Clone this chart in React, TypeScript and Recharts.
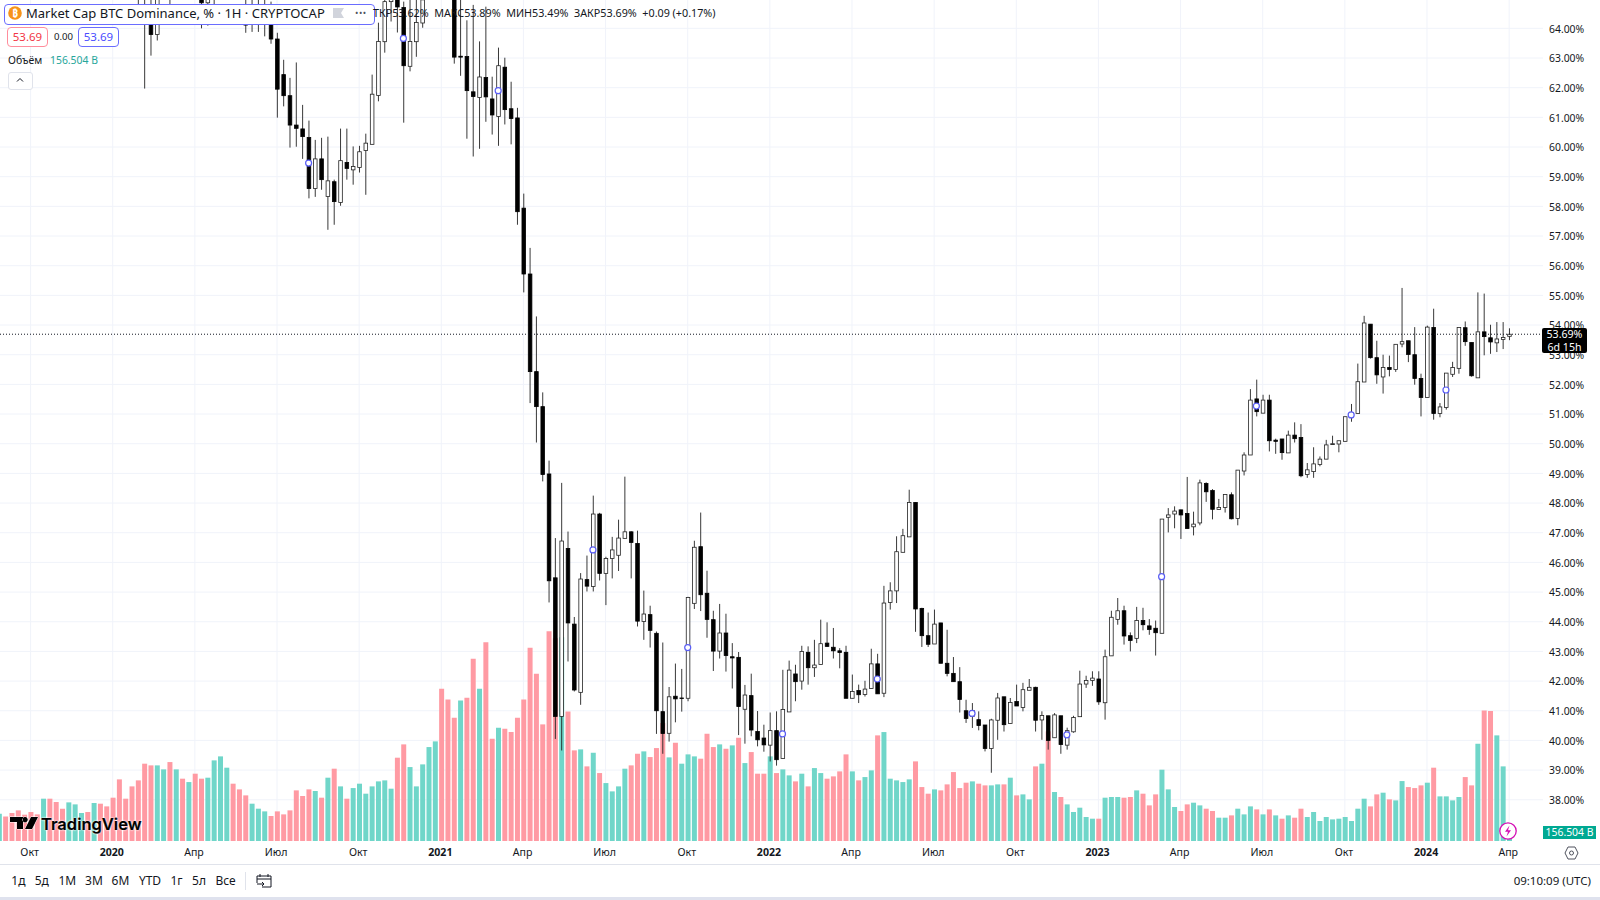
import * as React from "react";
import {
  Bar,
  CartesianGrid,
  Cell,
  ComposedChart,
  Line,
  ReferenceLine,
  XAxis,
  YAxis,
} from "recharts";

// ─── Data (weekly BTC dominance, %) ──────────────────────────────────────────

const opens = [
  69.8, 69.4, 69, 68.6, 69.1, 68.7, 68.3, 68.6, 68.2, 67.8, 68.1, 67.6, 67.9, 68.3, 67.8, 67.4, 67.7, 67.2, 67.5, 67.9, 67.4, 66.9,
  65.9, 66, 64.15, 63.79, 65.8, 65.5, 65.6, 65.9, 65.5, 65.9,
  65.3, 64.86, 65.2, 65.6, 65.8, 65.4, 65.7, 64.2, 64.2, 64.5,
  64.3, 64.19, 63.64, 62.44, 61.73, 60.74, 60.61, 60.32, 58.6, 59.6,
  58.33, 58.83, 58.13, 59.48, 59.23, 59.31, 59.88, 60.09, 61.74, 63.55,
  64.9, 65.13, 64.7, 62.72, 63.55, 64.18, 65.1, 65.9, 66.2, 65.9,
  65.4, 63.06, 63.05, 61.86, 61.67, 62.34, 61.62, 61.03, 62.69, 61.29,
  60.98, 57.94, 55.72, 52.43, 51.25, 48.98, 45.48, 40.81, 46.47, 43.92,
  41.62, 45.42, 45.19, 47.63, 45.63, 46.13, 46.24, 46.81, 47.03, 46.64,
  44.01, 44.24, 43.61, 40.97, 40.24, 41.49, 41.43, 41.42, 44.62, 46.53,
  44.96, 44.07, 43.01, 43.62, 42.82, 42.8, 41.05, 41.51, 40.3, 40.08,
  39.84, 40.33, 39.39, 40.96, 42.24, 42, 42.97, 42.45, 42.56, 43.28,
  43.14, 43.02, 42.97, 41.42, 41.68, 41.55, 41.75, 42.58, 41.59, 44.65,
  45.04, 46.34, 46.86, 48.02, 44.45, 43.53, 43.25, 43.96, 42.6, 42.26,
  41.98, 41, 40.81, 40.7, 40.52, 39.73, 40.68, 41.47, 40.57, 41.31,
  41.11, 41.69, 41.79, 40.69, 40.83, 40.09, 40.83, 39.84, 40.29, 40.8,
  41.9, 42.02, 42.07, 41.27, 42.85, 44.08, 44.37, 43.53, 43.44, 44.04,
  43.86, 43.78, 43.61, 47.52, 47.63, 47.77, 47.65, 47.2, 47.33, 48.66,
  48.42, 47.78, 47.85, 48.28, 47.48, 49.08, 49.62, 51.51, 51.03, 51.47,
  50.12, 50.16, 49.69, 50.29, 50.21, 48.96, 49.06, 49.3, 49.48, 49.97,
  49.99, 50.08, 50.91, 51.02, 52.08, 54.03, 52.9, 52.25, 52.57, 52.5,
  53.36, 53.47, 53, 52.2, 51.56, 53.92, 51.02, 51.22, 52.34, 52.54,
  53.91, 53.41, 52.22, 53.77, 53.57, 53.4, 53.51, 53.62,
];

const highs = [
  70.2, 69.8, 69.4, 69.5, 69.5, 69.1, 69, 69, 68.6, 68.5, 68.5, 68.3, 68.7, 68.7, 68.2, 68.1, 68.1, 67.9, 68.3, 68.3, 67.8, 67.3,
  66.2, 66.4, 65.2, 65.4, 66.2, 66, 66.3, 66.2, 66.2, 66.1,
  65.7, 65.5, 65.6, 66.2, 66.1, 66, 66.2, 65, 65.1, 65.2,
  65, 64.9, 63.85, 62.94, 62.33, 62.85, 61.42, 60.89, 60.24, 60.31,
  60.35, 58.9, 60.62, 60.62, 60.02, 60.04, 60.45, 62.44, 64.19, 65.3,
  65.6, 65.5, 64.9, 64.96, 64.96, 65.3, 66.3, 66.6, 66.8, 66.7,
  65.9, 65, 64.27, 64.79, 63.56, 64.73, 62.37, 63.35, 63.01, 62.2,
  61.32, 58.43, 56.6, 54.29, 51.73, 49.43, 46.82, 48.68, 47.04, 44.16,
  45.64, 46.23, 48.25, 47.67, 46.19, 46.86, 47.44, 48.89, 47.05, 47.07,
  45.05, 44.54, 43.67, 43.3, 41.8, 42.59, 42.41, 44.84, 46.73, 47.68,
  45.72, 44.37, 44.6, 44.27, 43.28, 42.98, 41.87, 42.25, 40.99, 40.53,
  40.94, 40.98, 42.38, 42.69, 42.55, 43.19, 43.17, 43.39, 44.07, 43.98,
  43.79, 43.11, 43.19, 42.22, 41.88, 42.01, 43.09, 42.92, 45.21, 45.33,
  46.88, 47.13, 48.45, 48.03, 44.47, 44.31, 44.41, 43.96, 43.73, 42.81,
  42.47, 41.37, 41.26, 40.98, 40.52, 40.73, 41.6, 41.47, 41.43, 41.88,
  41.94, 42.07, 41.81, 40.98, 40.83, 40.92, 40.83, 40.43, 40.83, 42.35,
  42.18, 42.33, 42.33, 43.06, 44.37, 44.8, 44.54, 43.64, 44.5, 44.47,
  44.09, 44.04, 47.46, 47.83, 47.89, 47.78, 48.88, 47.71, 48.79, 48.7,
  48.47, 48.14, 48.29, 48.36, 49.11, 49.71, 51.84, 52.16, 51.65, 51.65,
  50.17, 50.16, 50.44, 50.72, 50.66, 49.35, 49.88, 49.57, 50.13, 50.27,
  50.1, 50.91, 51.34, 52.7, 54.31, 54.03, 53.47, 53, 52.97, 53.35,
  55.25, 53.47, 53.93, 52.36, 53.98, 54.55, 51.37, 52.38, 52.76, 53.92,
  54.12, 53.41, 55.1, 55.06, 54.01, 54.1, 54.1, 53.89,
];

const lows = [
  68.9, 68.5, 68.1, 68.1, 68.2, 67.8, 67.8, 67.7, 67.3, 67.3, 67.1, 67.1, 67.4, 67.3, 66.9, 66.9, 66.7, 66.7, 67, 66.9, 66.4, 65.9,
  64.12, 61.97, 63.08, 63.59, 65.1, 64.15, 65.2, 65.3, 65.1, 65.2,
  64, 64.09, 64.3, 65.1, 65.2, 65.1, 65.2, 63.85, 63.88, 63.88,
  63.73, 63.48, 60.99, 61.37, 59.98, 60.01, 59.6, 58.27, 58.32, 58.56,
  57.21, 57.38, 58.02, 58.9, 58.73, 59.14, 58.39, 60.09, 61.54, 63.18,
  64.23, 63.86, 60.82, 62.55, 63.04, 64.02, 65.05, 65.6, 65.5, 65.4,
  62.81, 62.4, 60.28, 59.68, 59.94, 60.85, 60.42, 60.04, 60.76, 60.09,
  57.38, 55.1, 51.37, 50.04, 48.73, 44.65, 40.05, 39.66, 42.66, 41.65,
  41.2, 45.02, 45.02, 45.39, 44.56, 45.46, 45.71, 46.81, 45.46, 43.84,
  43.39, 43.13, 40.22, 39.55, 39.96, 40.61, 40.97, 41.32, 44.43, 44.36,
  43.46, 42.34, 42.76, 42.32, 41.75, 40.18, 39.89, 40.14, 39.8, 39.62,
  39.29, 39.15, 39.39, 40.96, 41.32, 41.71, 41.88, 42.14, 42.56, 43.15,
  42.76, 42.43, 41.42, 41.42, 41.26, 41.48, 41.75, 41.57, 41.46, 44.41,
  44.63, 46.34, 46.86, 43.66, 43.15, 43.15, 43.25, 42.6, 42.16, 41.98,
  40.94, 40.59, 40.42, 40.34, 39.63, 38.91, 40.02, 40.3, 40.57, 41.16,
  40.98, 41.69, 40.3, 40.02, 39.69, 40.09, 39.55, 39.69, 40.26, 40.8,
  41.77, 41.84, 41.2, 40.7, 42.85, 43.9, 43.23, 43, 43.28, 43.71,
  43.56, 42.86, 43.61, 47.01, 47.15, 46.79, 47.14, 46.91, 47.25, 48.04,
  47.45, 47.78, 47.68, 47.45, 47.25, 48.93, 49.62, 50.92, 51.03, 49.74,
  49.66, 49.46, 49.69, 50.04, 48.87, 48.85, 48.85, 49.24, 49.48, 49.97,
  49.71, 50.08, 50.74, 51.02, 52.08, 52.87, 52.02, 51.69, 52.27, 52.42,
  53.25, 52.75, 51.99, 50.92, 51.56, 50.81, 50.89, 51.15, 52.25, 52.36,
  53.3, 52.26, 52.22, 52.98, 53.03, 53.09, 53.19, 53.49,
];

const closes = [
  69.4, 69, 68.6, 69.1, 68.7, 68.3, 68.6, 68.2, 67.8, 68.1, 67.6, 67.9, 68.3, 67.8, 67.4, 67.7, 67.2, 67.5, 67.9, 67.4, 66.9, 66.4,
  65.4, 65.3, 63.79, 65.03, 65.5, 65.2, 65.9, 65.6, 65.9, 65.4,
  64.86, 65.2, 65, 65.8, 65.5, 65.7, 65.4, 64.11, 64.5, 64.3,
  64.22, 63.64, 61.95, 61.73, 60.74, 60.63, 60.35, 58.6, 59.6, 58.9,
  58.86, 58.16, 59.54, 59.28, 59.34, 59.84, 60.13, 61.78, 63.56, 64.9,
  65.3, 64.72, 62.74, 63.56, 64.2, 64.96, 65.9, 66.2, 65.9, 66.3,
  63.03, 63.03, 61.9, 61.7, 62.36, 61.69, 61.08, 62.74, 61.26, 60.96,
  57.82, 55.72, 52.43, 51.25, 48.96, 45.38, 40.81, 46.72, 43.96, 41.7,
  45.44, 45.2, 47.63, 45.63, 46.13, 46.42, 46.82, 47.03, 46.67, 44.02,
  44.26, 43.71, 41, 40.23, 41.47, 41.4, 41.41, 44.82, 46.51, 44.91,
  44.08, 43.01, 43.62, 42.86, 42.78, 41.14, 41.53, 40.35, 40.02, 39.85,
  40.33, 39.35, 41.04, 42.37, 41.98, 43, 42.45, 42.54, 43.26, 43.17,
  43.02, 42.96, 41.42, 41.65, 41.54, 41.73, 42.58, 41.57, 44.63, 45.04,
  46.36, 46.9, 48.02, 44.43, 43.53, 43.24, 43.92, 42.6, 42.26, 41.98,
  41.38, 40.74, 41.01, 40.5, 39.73, 40.69, 41.43, 40.53, 41.28, 41.16,
  41.71, 41.79, 40.68, 40.84, 40, 40.86, 39.86, 40.33, 40.77, 41.9,
  42.02, 42.1, 41.3, 42.82, 44.15, 44.37, 43.52, 43.37, 44.04, 43.9,
  43.74, 43.63, 47.46, 47.6, 47.73, 47.6, 47.14, 47.29, 48.68, 48.38,
  47.79, 47.85, 48.29, 47.47, 49.11, 49.62, 51.47, 51.08, 51.47, 50.1,
  50.08, 49.7, 50.29, 50.17, 48.92, 49.12, 49.32, 49.48, 49.96, 50,
  50.1, 50.91, 51.04, 52.09, 54.07, 52.9, 52.32, 52.57, 52.5, 53.35,
  53.44, 53.01, 52.2, 51.56, 53.93, 51.02, 51.24, 52.38, 52.57, 53.92,
  53.44, 52.29, 53.77, 53.61, 53.43, 53.53, 53.58, 53.69,
];

// Volume in billions, T = teal bar, P = pink bar
const volumes = [
  437, 394, 448, 490, 421, 464, 426, 677, 677, 624,
  517, 618, 586, 448, 464, 608, 597, 554, 693, 986,
  677, 874, 970, 1237, 1210, 1210, 1146, 1263, 1146, 997,
  943, 1077, 997, 1013, 1290, 1354, 1173, 917, 826, 730,
  597, 517, 474, 400, 474, 426, 490, 810, 720, 826,
  800, 693, 1013, 1157, 874, 677, 847, 917, 757, 874,
  954, 970, 837, 1333, 1546, 1183, 874, 1226, 1503, 1594,
  2436, 2265, 1972, 2249, 2292, 2916, 2436, 3182, 1636, 1812,
  1796, 1743, 1972, 2265, 3091, 2676, 1866, 3358, 3246, 3262,
  2073, 1450, 1466, 1194, 1412, 1087, 927, 794, 874, 1157,
  1210, 1396, 1434, 1343, 1487, 1887, 1338, 1572, 1237, 1386,
  1354, 1317, 1716, 1503, 1546, 1476, 1530, 1652, 1247, 1423,
  1077, 1077, 1354, 1087, 1146, 1050, 954, 1077, 874, 1167,
  1087, 997, 1034, 1114, 1386, 1114, 970, 1023, 1130, 1690,
  1743, 997, 970, 943, 986, 1274, 863, 757, 826, 810,
  906, 1103, 847, 933, 954, 917, 890, 890, 906, 906,
  1013, 730, 746, 666, 1194, 1237, 1754, 784, 704, 586,
  464, 533, 384, 357, 357, 693, 704, 704, 693, 704,
  810, 757, 570, 746, 1141, 826, 544, 480, 586, 613,
  570, 517, 480, 373, 373, 410, 517, 426, 554, 506,
  426, 506, 410, 357, 410, 373, 517, 384, 464, 320,
  384, 346, 357, 384, 320, 517, 677, 554, 746, 773,
  666, 650, 959, 863, 847, 890, 933, 1173, 714, 714,
  650, 704, 1023, 890, 1556, 2089, 2079, 1690, 1194, 157,
];

const volumeSides = (
  "TPPPPPPTPP" + "PTTTPTPPPP" + "PPPPPTTPTP" + "TPPTTTTPPP" + "TTTPPPPPPP" + "TPTPTPTTTT" +
  "TTTPPTTTTT" + "PPPTPPTPPT" + "PPPPPPPPPT" + "PPTPTPTTTT" + "PPTPPPTPTT" + "TPPPTPTPTP" +
  "PPTPTTPTPT" + "TPPPPTPTTP" + "TTTTTPPPTP" + "PPPPTPPTTP" + "TPTTPTPTPT" + "TTTTPTTTPP" +
  "TPPPTTTPPT" + "TPPTTPTTTP" + "TPTPTPPTTT" + "TTTTTTTPPT" + "PTTPPPTPTT" + "TTPPTPPTTT"
).split("");

// Blue session markers sitting on the candles
const markIndexes = [49, 64, 79, 94, 109, 124, 139, 154, 169, 184, 199, 214, 229];
const markPrices = [59.46, 63.66, 61.9, 46.42, 43.13, 40.22, 42.07, 40.91, 40.19, 45.52, 51.27, 50.97, 51.81];

const priceTicks = [38, 39, 40, 41, 42, 43, 44, 45, 46, 47, 48, 49, 50, 51, 52, 53, 54, 55, 56, 57, 58, 59, 60, 61, 62, 63, 64];
const timeTicks = [5, 18, 31, 44, 57, 70, 83, 96, 109, 122, 135, 148, 161, 174, 187, 200, 213, 226, 239];
const timeLabels = ["Окт", "2020", "Апр", "Июл", "Окт", "2021", "Апр", "Июл", "Окт", "2022", "Апр", "Июл", "Окт", "2023", "Апр", "Июл", "Окт", "2024", "Апр"];
const rangeButtons = ["1д", "5д", "1М", "3М", "6М", "YTD", "1г", "5л", "Все"];
const rangeButtonCenters = [18.4, 41.8, 67.3, 93.9, 120.4, 150, 176.5, 199, 225.5];

const LAST_PRICE = 53.69;
const FONT = '"Noto Sans", sans-serif';
const TEXT = "#131722";
const BLUE = "#6a6dff";

const rows = opens.map((open, i) => ({
  index: i,
  open,
  high: highs[i],
  low: lows[i],
  close: closes[i],
  volume: volumes[i],
  side: volumeSides[i],
  mark: markIndexes.includes(i) ? markPrices[markIndexes.indexOf(i)] : null,
}));

// ─── Chart pieces ────────────────────────────────────────────────────────────

function Candle(props: any) {
  const { x, y, width, height, payload } = props;
  const { open, high, low, close } = payload;
  const pxPerUnit = height / (high - low);
  const top = y + (high - Math.max(open, close)) * pxPerUnit;
  const bottom = y + (high - Math.min(open, close)) * pxPerUnit;
  const cx = x + width / 2;
  return (
    <g>
      <line x1={cx} x2={cx} y1={y} y2={y + height} stroke="#222" strokeWidth={0.9} />
      <rect
        x={cx - 1.8}
        y={top}
        width={3.6}
        height={Math.max(bottom - top, 0.6)}
        fill={close >= open ? "#fff" : "#000"}
        stroke={close >= open ? "#222" : "#000"}
        strokeWidth={0.8}
      />
    </g>
  );
}

function MarkDot(props: any) {
  const { cx, cy, payload, index } = props;
  if (payload.mark == null) return <g key={index} />;
  return <circle key={index} cx={cx} cy={cy} r={3} fill="#fff" stroke="#5a5ef5" strokeWidth={1.2} />;
}

function TimeTick(props: any) {
  const { x, y, index } = props;
  const label = timeLabels[index];
  const isYear = /^\d/.test(label);
  return (
    <text x={x - 0.9} y={y + 5} textAnchor="middle" dominantBaseline="central" fontSize={10.6} fontFamily={FONT} fontWeight={isYear ? 700 : 400} fill={TEXT}>
      {label}
    </text>
  );
}

const XDOMAIN: [number, number] = [0.16, 244.36];

function Box({ style, children }: { style: React.CSSProperties; children?: React.ReactNode }) {
  return <div style={{ position: "absolute", whiteSpace: "nowrap", ...style }}>{children}</div>;
}

export default function App() {
  return (
    <div style={{ position: "absolute", left: 0, top: 0, width: 1600, height: 900, background: "#fff", overflow: "hidden", fontFamily: FONT, color: TEXT }}>
      <ComposedChart width={1600} height={864} data={rows} margin={{ top: 0, right: 0, bottom: 0, left: 0 }}>
        <XAxis
          xAxisId="price"
          dataKey="index"
          type="number"
          domain={XDOMAIN}
          allowDataOverflow
          ticks={timeTicks}
          interval={0}
          height={23}
          tickLine={false}
          axisLine={false}
          tickMargin={0}
          tick={<TimeTick />}
        />
        <XAxis xAxisId="volume" dataKey="index" type="number" domain={XDOMAIN} allowDataOverflow hide />
        <YAxis
          yAxisId="price"
          orientation="right"
          type="number"
          domain={[36.61, 64.955]}
          allowDataOverflow
          ticks={priceTicks}
          interval={0}
          width={57}
          tickLine={false}
          axisLine={false}
          tickMargin={0}
          tick={{ fontSize: 10.4, fill: TEXT, fontFamily: FONT, dy: 0.5 }}
          tickFormatter={(v: number) => `${v.toFixed(2)}%`}
        />
        <YAxis yAxisId="volume" type="number" domain={[0, 13456]} allowDataOverflow hide />
        <CartesianGrid xAxisId="price" yAxisId="price" stroke="#f0f3fa" strokeWidth={1} syncWithTicks />
        <Bar xAxisId="volume" yAxisId="volume" dataKey="volume" barSize={5} isAnimationActive={false}>
          {rows.map((row) => (
            <Cell key={row.index} fill={row.side === "T" ? "#70d6c9" : "#ff9aa3"} />
          ))}
        </Bar>
        <Bar
          xAxisId="price"
          yAxisId="price"
          dataKey={(row: any) => [row.low, row.high]}
          barSize={5}
          shape={<Candle />}
          isAnimationActive={false}
        />
        <ReferenceLine xAxisId="price" yAxisId="price" y={LAST_PRICE} stroke="#131722" strokeDasharray="1 2" />
        <Line
          xAxisId="price"
          yAxisId="price"
          dataKey="mark"
          stroke="none"
          dot={<MarkDot />}
          activeDot={false}
          legendType="none"
          isAnimationActive={false}
        />
      </ComposedChart>

      {/* Legend block */}
      <Box style={{ left: 3.5, top: 3.5, width: 369, height: 19, border: `1px solid ${BLUE}`, borderRadius: 4, background: "#fff" }} />
      <svg style={{ position: "absolute", left: 8, top: 6 }} width={14} height={14}>
        <circle cx={7} cy={7} r={6.8} fill="#f7931a" />
        <text x={7} y={10.5} textAnchor="middle" fontSize={10} fontWeight={700} fill="#fff" fontFamily={FONT}>₿</text>
      </svg>
      <Box style={{ left: 26, top: 4, fontSize: 13, lineHeight: "18px" }}>Market Cap BTC Dominance, % · 1H · CRYPTOCAP</Box>
      <svg style={{ position: "absolute", left: 333, top: 8 }} width={12} height={10}>
        <path d="M0 0H11L8 5L11 10H0Z" fill="#d1d4dc" />
      </svg>
      <Box style={{ left: 355, top: 4, fontSize: 9, lineHeight: "18px", letterSpacing: 0.5, color: "#50535e" }}>•••</Box>
      <Box style={{ left: 373, top: 5, fontSize: 10.75, lineHeight: "16px" }}>
        ТКР53.62%&nbsp;&nbsp;МАКС53.89%&nbsp;&nbsp;МИН53.49%&nbsp;&nbsp;ЗАКР53.69%&nbsp;&nbsp;+0.09 (+0.17%)
      </Box>
      <Box style={{ left: 7, top: 27, width: 39, height: 18, border: "1px solid #ff8d9c", borderRadius: 4, background: "#fff", color: "#f23645", fontSize: 11.5, lineHeight: "18px", textAlign: "center" }}>53.69</Box>
      <Box style={{ left: 54, top: 28, fontSize: 9.6, lineHeight: "18px" }}>0.00</Box>
      <Box style={{ left: 78, top: 27, width: 39, height: 18, border: `1px solid ${BLUE}`, borderRadius: 4, background: "#fff", color: "#4a4dff", fontSize: 11.5, lineHeight: "18px", textAlign: "center" }}>53.69</Box>
      <Box style={{ left: 8, top: 52, fontSize: 10.4, lineHeight: "16px" }}>Объём</Box>
      <Box style={{ left: 50, top: 52, fontSize: 10.4, lineHeight: "16px", color: "#26a69a" }}>156.504 B</Box>
      <Box style={{ left: 8, top: 72, width: 23, height: 16, border: "1px solid #e0e3eb", borderRadius: 3, background: "#fff" }} />
      <svg style={{ position: "absolute", left: 15, top: 77 }} width={10} height={6}>
        <path d="M2 4.5L5 1.5L8 4.5" fill="none" stroke={TEXT} strokeWidth={1} />
      </svg>

      {/* Last price tag and volume tag */}
      <Box style={{ left: 1542, top: 328, width: 45, height: 25, background: "#000", color: "#fff", borderRadius: 2, fontSize: 10.6, lineHeight: "12.5px", textAlign: "center" }}>
        53.69%
        <br />
        6d 15h
      </Box>
      <Box style={{ left: 1543, top: 826, width: 53, height: 13, background: "#00a992", color: "#fff", fontSize: 10.4, lineHeight: "13px", textAlign: "center" }}>156.504 B</Box>

      {/* Watermark */}
      <svg style={{ position: "absolute", left: 9, top: 814 }} width={30} height={18}>
        <path d="M1 3H14V15H8V8H1Z M16 3A2.7 2.7 0 1 0 16.1 3Z M22 3H29L23 15H16Z" fill="#000" stroke="#fff" strokeWidth={1} paintOrder="stroke" />
      </svg>
      <Box style={{ left: 41, top: 813, fontFamily: "Inter, sans-serif", fontSize: 16.5, fontWeight: 600, lineHeight: "22px", color: "#000", WebkitTextStroke: "0.2px #000", textShadow: "0 0 2px #fff, 0 0 2px #fff" }}>TradingView</Box>

      {/* Lightning badge */}
      <svg style={{ position: "absolute", left: 1498, top: 821 }} width={20} height={20}>
        <circle cx={10} cy={10} r={8.2} fill="#fff" stroke="#d40fb5" strokeWidth={1.3} />
        <path d="M11.5 4.5L7 10.8H10L8.5 15.5L13 9.2H10Z" fill="#d40fb5" />
      </svg>

      {/* Axis settings */}
      <svg style={{ position: "absolute", left: 1564, top: 846 }} width={15} height={14}>
        <path d="M4 1H11L14 7L11 13H4L1 7Z" fill="none" stroke="#50535e" strokeWidth={1} />
        <circle cx={7.5} cy={7} r={2} fill="none" stroke="#50535e" strokeWidth={1} />
      </svg>

      {/* Bottom toolbar */}
      <Box style={{ left: 0, top: 864, width: 1600, height: 1, background: "#e0e3eb" }} />
      {rangeButtons.map((label, i) => (
        <Box key={label} style={{ left: rangeButtonCenters[i] - 20, width: 40, top: 872, fontSize: 12, lineHeight: "18px", textAlign: "center" }}>{label}</Box>
      ))}
      <Box style={{ left: 245, top: 872, width: 1, height: 18, background: "#e0e3eb" }} />
      <svg style={{ position: "absolute", left: 256, top: 873 }} width={17} height={16}>
        <path d="M1 3H15V14H6M1 3V10M1 6H15M4 1V4M12 1V4M1 11H8M6 9L8 11L6 13" fill="none" stroke={TEXT} strokeWidth={1} />
      </svg>
      <Box style={{ right: 9, top: 872, fontSize: 11.5, lineHeight: "18px" }}>09:10:09 (UTC)</Box>
      <Box style={{ left: 0, top: 897, width: 1600, height: 3, background: "#dfe2ee" }} />
    </div>
  );
}
